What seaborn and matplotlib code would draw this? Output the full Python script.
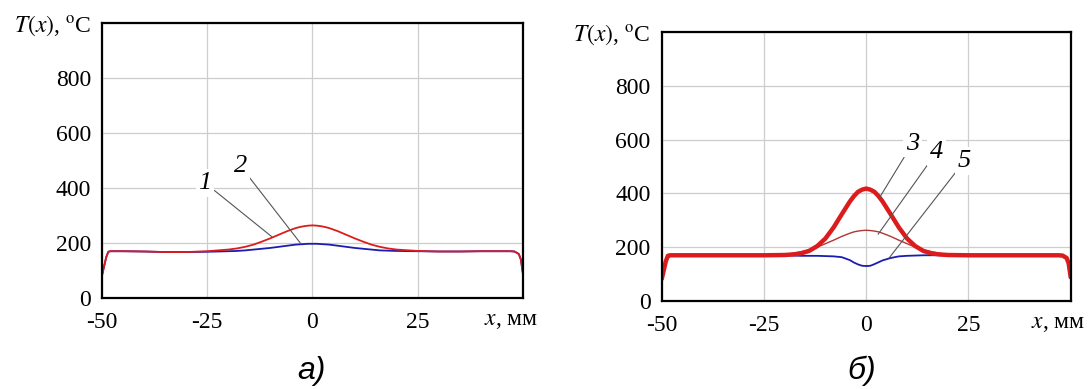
import numpy as np
import pandas as pd
import matplotlib
matplotlib.use('Agg')
import matplotlib.pyplot as plt
import seaborn as sns

sns.set_style('white')
plt.rcParams['font.family'] = ['Liberation Serif', 'DejaVu Serif']
plt.rcParams['mathtext.fontset'] = 'stix'
plt.rcParams['text.color'] = 'black'
plt.rcParams['xtick.color'] = 'black'
plt.rcParams['ytick.color'] = 'black'

# coordinate along the sample, mm
x_mm = [-50, -49.5, -49, -48.5, -48, -45, -40, -35, -30, -25,
        -20, -18, -16, -14, -12, -10, -8, -6, -4, -3, -2, -1,
        0, 1, 2, 3, 4, 6, 8, 10, 12, 14, 16, 18,
        20, 25, 30, 35, 40, 45, 47, 48, 49, 49.5, 50]

# panel a)
t1 = [82, 115, 148, 168, 170, 170, 169, 167, 167, 168,
      170, 171, 173, 176, 179, 182, 186, 190, 194, 195, 196, 197,
      197, 197, 196, 195, 194, 190, 186, 182, 179, 176, 173, 172,
      171, 170, 169, 169, 170, 170, 170, 169, 160, 140, 88]
t2 = [82, 115, 148, 168, 170, 170, 169, 167, 167, 170,
      176, 180, 186, 194, 205, 217, 230, 243, 254, 258, 261, 263,
      264, 263, 261, 258, 254, 243, 230, 217, 205, 194, 186, 180,
      176, 171, 169, 169, 170, 170, 170, 169, 160, 140, 88]

# panel б)
t3 = [82, 115, 148, 168, 170, 170, 170, 170, 170, 170,
      171, 173, 177, 186, 204, 232, 273, 322, 370, 390, 406, 414,
      418, 414, 406, 390, 370, 322, 273, 232, 204, 186, 177, 173,
      171, 170, 170, 170, 170, 170, 170, 169, 160, 140, 88]
t4 = [82, 115, 148, 168, 170, 170, 170, 170, 170, 171,
      174, 177, 183, 190, 200, 213, 226, 240, 252, 257, 260, 262,
      263, 262, 260, 257, 252, 240, 226, 213, 200, 190, 183, 177,
      174, 171, 170, 170, 170, 170, 170, 169, 160, 140, 88]
t5 = [82, 115, 148, 168, 170, 170, 170, 170, 170, 170,
      170, 169, 168, 168, 168, 167, 166, 163, 152, 143, 136, 131,
      130, 131, 137, 144, 151, 160, 166, 168, 169, 170, 170, 170,
      170, 170, 170, 170, 170, 170, 170, 169, 160, 140, 88]

x_ticks = [-50, -25, 0, 25, 50]
x_tick_labels = ['-50', '-25', '0', '25', '']
x_minor = [-37.5, -12.5, 12.5, 37.5]
y_ticks = [0, 200, 400, 600, 800, 1000]
y_tick_labels = ['0', '200', '400', '600', '800', r'$T(x)$, $^{\mathrm{o}}$C']
y_minor = [100, 300, 500, 700, 900]

df = pd.DataFrame({'x': x_mm, 't1': t1, 't2': t2, 't3': t3, 't4': t4, 't5': t5})

fig = plt.figure(figsize=(10.92, 3.89), dpi=100)
ax_a = fig.add_axes([0.0934, 0.234, 0.3855, 0.707])
ax_b = fig.add_axes([0.606, 0.2262, 0.3745, 0.6915])

red = '#dc1c1c'
blue = '#1c1cb0'
dark_red = '#b03535'

sns.lineplot(data=df, x='x', y='t1', ax=ax_a, color=blue, lw=1.3)
sns.lineplot(data=df, x='x', y='t2', ax=ax_a, color=red, lw=1.3)

sns.lineplot(data=df, x='x', y='t5', ax=ax_b, color=blue, lw=1.3)
sns.lineplot(data=df, x='x', y='t4', ax=ax_b, color=dark_red, lw=1.0)
sns.lineplot(data=df, x='x', y='t3', ax=ax_b, color=red, lw=3.2)


def style_axes(ax):
    ax.set_xlim(-50, 50)
    ax.set_ylim(0, 1000)
    ax.set_xticks(x_ticks)
    ax.set_xticklabels(x_tick_labels)
    ax.set_xticks(x_minor, minor=True)
    ax.set_yticks(y_ticks)
    ax.set_yticklabels(y_tick_labels)
    ax.set_yticks(y_minor, minor=True)
    ax.set_xlabel('')
    ax.set_ylabel('')
    ax.grid(True, which='major', color='#cdcdcd', lw=0.9)
    for side in ['left', 'bottom', 'top', 'right']:
        ax.spines[side].set_visible(True)
        ax.spines[side].set_color('black')
        ax.spines[side].set_linewidth(1.6)
    ax.tick_params(which='major', direction='out', length=5, width=1.4,
                   labelsize=17, color='black', labelcolor='black', pad=3)
    ax.tick_params(axis='x', which='major', pad=5)
    ax.tick_params(which='minor', axis='x', direction='out', length=5, width=1.4)
    ax.tick_params(which='minor', axis='y', direction='out', length=3, width=1.2)
    ax.annotate(r'$x$, мм', xy=(1, 0), xycoords='axes fraction',
                xytext=(15, -12), textcoords='offset pixels',
                ha='right', va='top', fontsize=17, color='black')


style_axes(ax_a)
style_axes(ax_b)

lead = dict(arrowstyle='-', color='#555555', lw=0.8, shrinkA=0, shrinkB=0)
box = dict(boxstyle='square,pad=0.1', fc='white', ec='none')

# curve labels, panel a)
ax_a.annotate('1', xy=(-9.6, 222), xytext=(-25.5, 418), fontsize=19,
              style='italic', ha='center', va='center', bbox=box, arrowprops=lead)
ax_a.annotate('2', xy=(-2.9, 200), xytext=(-17.1, 480), fontsize=19,
              style='italic', ha='center', va='center', bbox=box, arrowprops=lead)

# curve labels, panel б)
ax_b.annotate('3', xy=(3.2, 383), xytext=(11.3, 585), fontsize=19,
              style='italic', ha='center', va='center', bbox=box, arrowprops=lead)
ax_b.annotate('4', xy=(2.9, 248), xytext=(17.2, 553), fontsize=19,
              style='italic', ha='center', va='center', bbox=box, arrowprops=lead)
ax_b.annotate('5', xy=(5.6, 160), xytext=(24.0, 520), fontsize=19,
              style='italic', ha='center', va='center', bbox=box, arrowprops=lead)

fig.text(0.285, 0.045, 'а)', fontsize=23, style='italic',
         family=['Liberation Sans', 'DejaVu Sans'], ha='center', va='center')
fig.text(0.789, 0.048, 'б)', fontsize=23, style='italic',
         family=['Liberation Sans', 'DejaVu Sans'], ha='center', va='center')

fig.savefig('out.png', dpi=100, facecolor='white')
